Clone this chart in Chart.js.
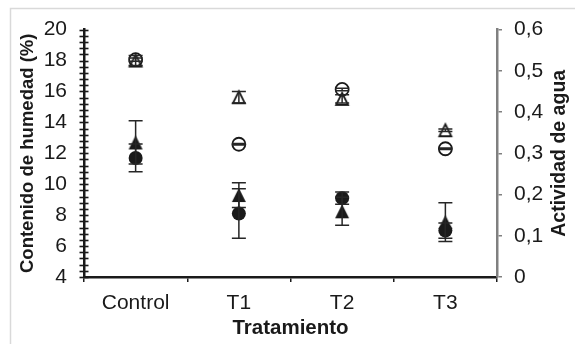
<!DOCTYPE html>
<html>
<head>
<meta charset="utf-8">
<script src="https://cdn.jsdelivr.net/npm/chart.js@4.4.1/dist/chart.umd.min.js"></script>
<style>
  html, body { margin: 0; padding: 0; background: #ffffff; }
  #wrap { width: 575px; height: 344px; position: relative; }
</style>
</head>
<body>
<div id="wrap"><canvas id="c" width="575" height="344"></canvas></div>
<script>
// Tratamientos
const categories = ['Control', 'T1', 'T2', 'T3'];

// Contenido de humedad (%) - eje izquierdo (marcadores rellenos)
const humedadCirculo = [11.7, 8.1, 9.1, 7.0];
const humedadCirculoDE = [0.9, 1.6, 0.4, 0.5];
const humedadTriangulo = [12.7, 9.3, 8.25, 7.55];
const humedadTrianguloDE = [1.4, 0.8, 0.9, 1.25];

// Actividad de agua - eje derecho (marcadores vacíos)
const awCirculo = [0.527, 0.322, 0.455, 0.311];
const awCirculoDE = [0.004, 0.002, 0.003, 0.002];
const awTriangulo = [0.525, 0.436, 0.432, 0.356];
const awTrianguloDE = [0.012, 0.014, 0.010, 0.003];

// Escalas
const humedadEje = { min: 4, max: 20, major: 2, minor: 0.4 };
const awEje = { min: 0, max: 0.6, step: 0.1 };

const FONT = "'Liberation Sans', Arial, sans-serif";
const INK = '#1a1a1a';
const GRIS = '#808080';

// Triángulo centrado en su caja, usado como pointStyle
function triangleMarker(w, h, filled, color, lw) {
  const c = document.createElement('canvas');
  c.width = Math.ceil(w + 6);
  c.height = Math.ceil(h + 6);
  const g = c.getContext('2d');
  const cx = c.width / 2, cy = c.height / 2;
  g.beginPath();
  g.moveTo(cx, cy - h / 2);
  g.lineTo(cx + w / 2, cy + h / 2);
  g.lineTo(cx - w / 2, cy + h / 2);
  g.closePath();
  if (filled) { g.fillStyle = color; g.fill(); }
  else { g.strokeStyle = color; g.lineWidth = lw; g.stroke(); }
  return c;
}

const triLleno = triangleMarker(14, 14, true, INK, 0);
const triVacio = triangleMarker(12, 12, false, INK, 1.8);

// Barras de error dibujadas con las escalas del gráfico
const errorBars = {
  id: 'errorBars',
  afterDatasetsDraw(chart) {
    const ctx = chart.ctx;
    const xs = chart.scales.x;
    ctx.save();
    ctx.strokeStyle = '#262626';
    ctx.lineWidth = 1.5;
    chart.data.datasets.forEach((ds) => {
      const ys = chart.scales[ds.yAxisID];
      ds.data.forEach((v, i) => {
        const e = ds.errores[i];
        const x = xs.getPixelForValue(i);
        const yT = ys.getPixelForValue(v + e);
        const yB = ys.getPixelForValue(v - e);
        ctx.beginPath();
        ctx.moveTo(x, yT); ctx.lineTo(x, yB);
        ctx.moveTo(x - 7, yT); ctx.lineTo(x + 7, yT);
        ctx.moveTo(x - 7, yB); ctx.lineTo(x + 7, yB);
        ctx.stroke();
      });
    });
    ctx.restore();
  }
};

// Marco exterior, marcas cruzadas del eje izquierdo y título del eje derecho
const decor = {
  id: 'decor',
  beforeDraw(chart) {
    const ctx = chart.ctx;
    ctx.save();
    ctx.fillStyle = '#ffffff';
    ctx.fillRect(0, 0, chart.width, chart.height);
    ctx.strokeStyle = '#d9d9d9';
    ctx.lineWidth = 1.5;
    ctx.strokeRect(10.5, 8.5, 700, 500);
    ctx.restore();
  },
  afterDraw(chart) {
    const ctx = chart.ctx;
    const ys = chart.scales.y;
    const x = chart.chartArea.left;
    ctx.save();
    ctx.strokeStyle = INK;
    ctx.lineWidth = 1.6;
    const n = Math.round((humedadEje.max - humedadEje.min) / humedadEje.minor);
    for (let i = 0; i <= n; i++) {
      const y = Math.round(ys.getPixelForValue(humedadEje.min + i * humedadEje.minor)) + 0.5;
      ctx.beginPath();
      ctx.moveTo(x - 4.5, y);
      ctx.lineTo(x + 4.5, y);
      ctx.stroke();
    }
    const y2 = chart.scales.y2;
    ctx.fillStyle = INK;
    ctx.font = 'bold 19.5px ' + FONT;
    ctx.textAlign = 'center';
    ctx.textBaseline = 'middle';
    ctx.translate(560, (y2.top + y2.bottom) / 2);
    ctx.rotate(-Math.PI / 2);
    ctx.fillText('Actividad de agua', 0, 0);
    ctx.restore();
  }
};

const config = {
  type: 'line',
  data: {
    labels: categories,
    datasets: [
      {
        label: 'Humedad (círculo)', data: humedadCirculo, errores: humedadCirculoDE, yAxisID: 'y',
        showLine: false, pointStyle: 'circle', pointRadius: 7, pointHoverRadius: 7,
        backgroundColor: INK, borderColor: INK, pointBorderWidth: 0
      },
      {
        label: 'Humedad (triángulo)', data: humedadTriangulo, errores: humedadTrianguloDE, yAxisID: 'y',
        showLine: false, pointStyle: triLleno, pointRadius: 7,
        backgroundColor: INK, borderColor: INK
      },
      {
        label: 'aw (círculo)', data: awCirculo, errores: awCirculoDE, yAxisID: 'y2',
        showLine: false, pointStyle: 'circle', pointRadius: 6.5, pointHoverRadius: 6.5,
        backgroundColor: 'rgba(0,0,0,0)', borderColor: INK, pointBorderWidth: 1.8
      },
      {
        label: 'aw (triángulo)', data: awTriangulo, errores: awTrianguloDE, yAxisID: 'y2',
        showLine: false, pointStyle: triVacio, pointRadius: 7,
        backgroundColor: 'rgba(0,0,0,0)', borderColor: INK
      }
    ]
  },
  options: {
    responsive: false,
    animation: false,
    events: [],
    layout: { padding: { top: 24, left: 0, right: 0, bottom: 0 } },
    plugins: { legend: { display: false }, tooltip: { enabled: false }, title: { display: false } },
    scales: {
      x: {
        type: 'category',
        offset: true,
        grid: { display: true, offset: true, drawOnChartArea: false, drawTicks: true, tickLength: 5, color: INK, lineWidth: 1.5 },
        border: { display: true, color: INK, width: 2.5 },
        ticks: { color: INK, font: { family: FONT, size: 21 }, padding: 9, maxRotation: 0, autoSkip: false },
        title: { display: true, text: 'Tratamiento', color: INK, font: { family: FONT, size: 20.5, weight: 'bold' }, padding: { top: 0, bottom: 3 } },
        afterFit(s) { s.height = 67; }
      },
      y: {
        type: 'linear',
        position: 'left',
        min: humedadEje.min,
        max: humedadEje.max,
        grid: { display: false, drawTicks: false, tickLength: 0 },
        border: { display: true, color: INK, width: 2.5 },
        ticks: { stepSize: humedadEje.major, color: INK, font: { family: FONT, size: 21 }, padding: 17, autoSkip: false },
        title: { display: true, text: 'Contenido de humedad (%)', color: INK, font: { family: FONT, size: 18.5, weight: 'bold' }, padding: { top: 17, bottom: 0 } },
        afterFit(s) { s.width = 84; }
      },
      y2: {
        type: 'linear',
        position: 'right',
        min: awEje.min,
        max: awEje.max,
        grid: { display: true, drawOnChartArea: false, drawTicks: true, tickLength: 5, color: GRIS, lineWidth: 1.5 },
        border: { display: true, color: GRIS, width: 2.5 },
        ticks: {
          stepSize: awEje.step, color: INK, font: { family: FONT, size: 21 }, padding: 12, autoSkip: false,
          callback: (v) => (Math.abs(v) < 1e-9 ? '0' : v.toFixed(1).replace('.', ','))
        },
        afterFit(s) { s.width = 78; }
      }
    }
  },
  plugins: [decor, errorBars]
};

new Chart(document.getElementById('c'), config);
</script>
</body>
</html>
